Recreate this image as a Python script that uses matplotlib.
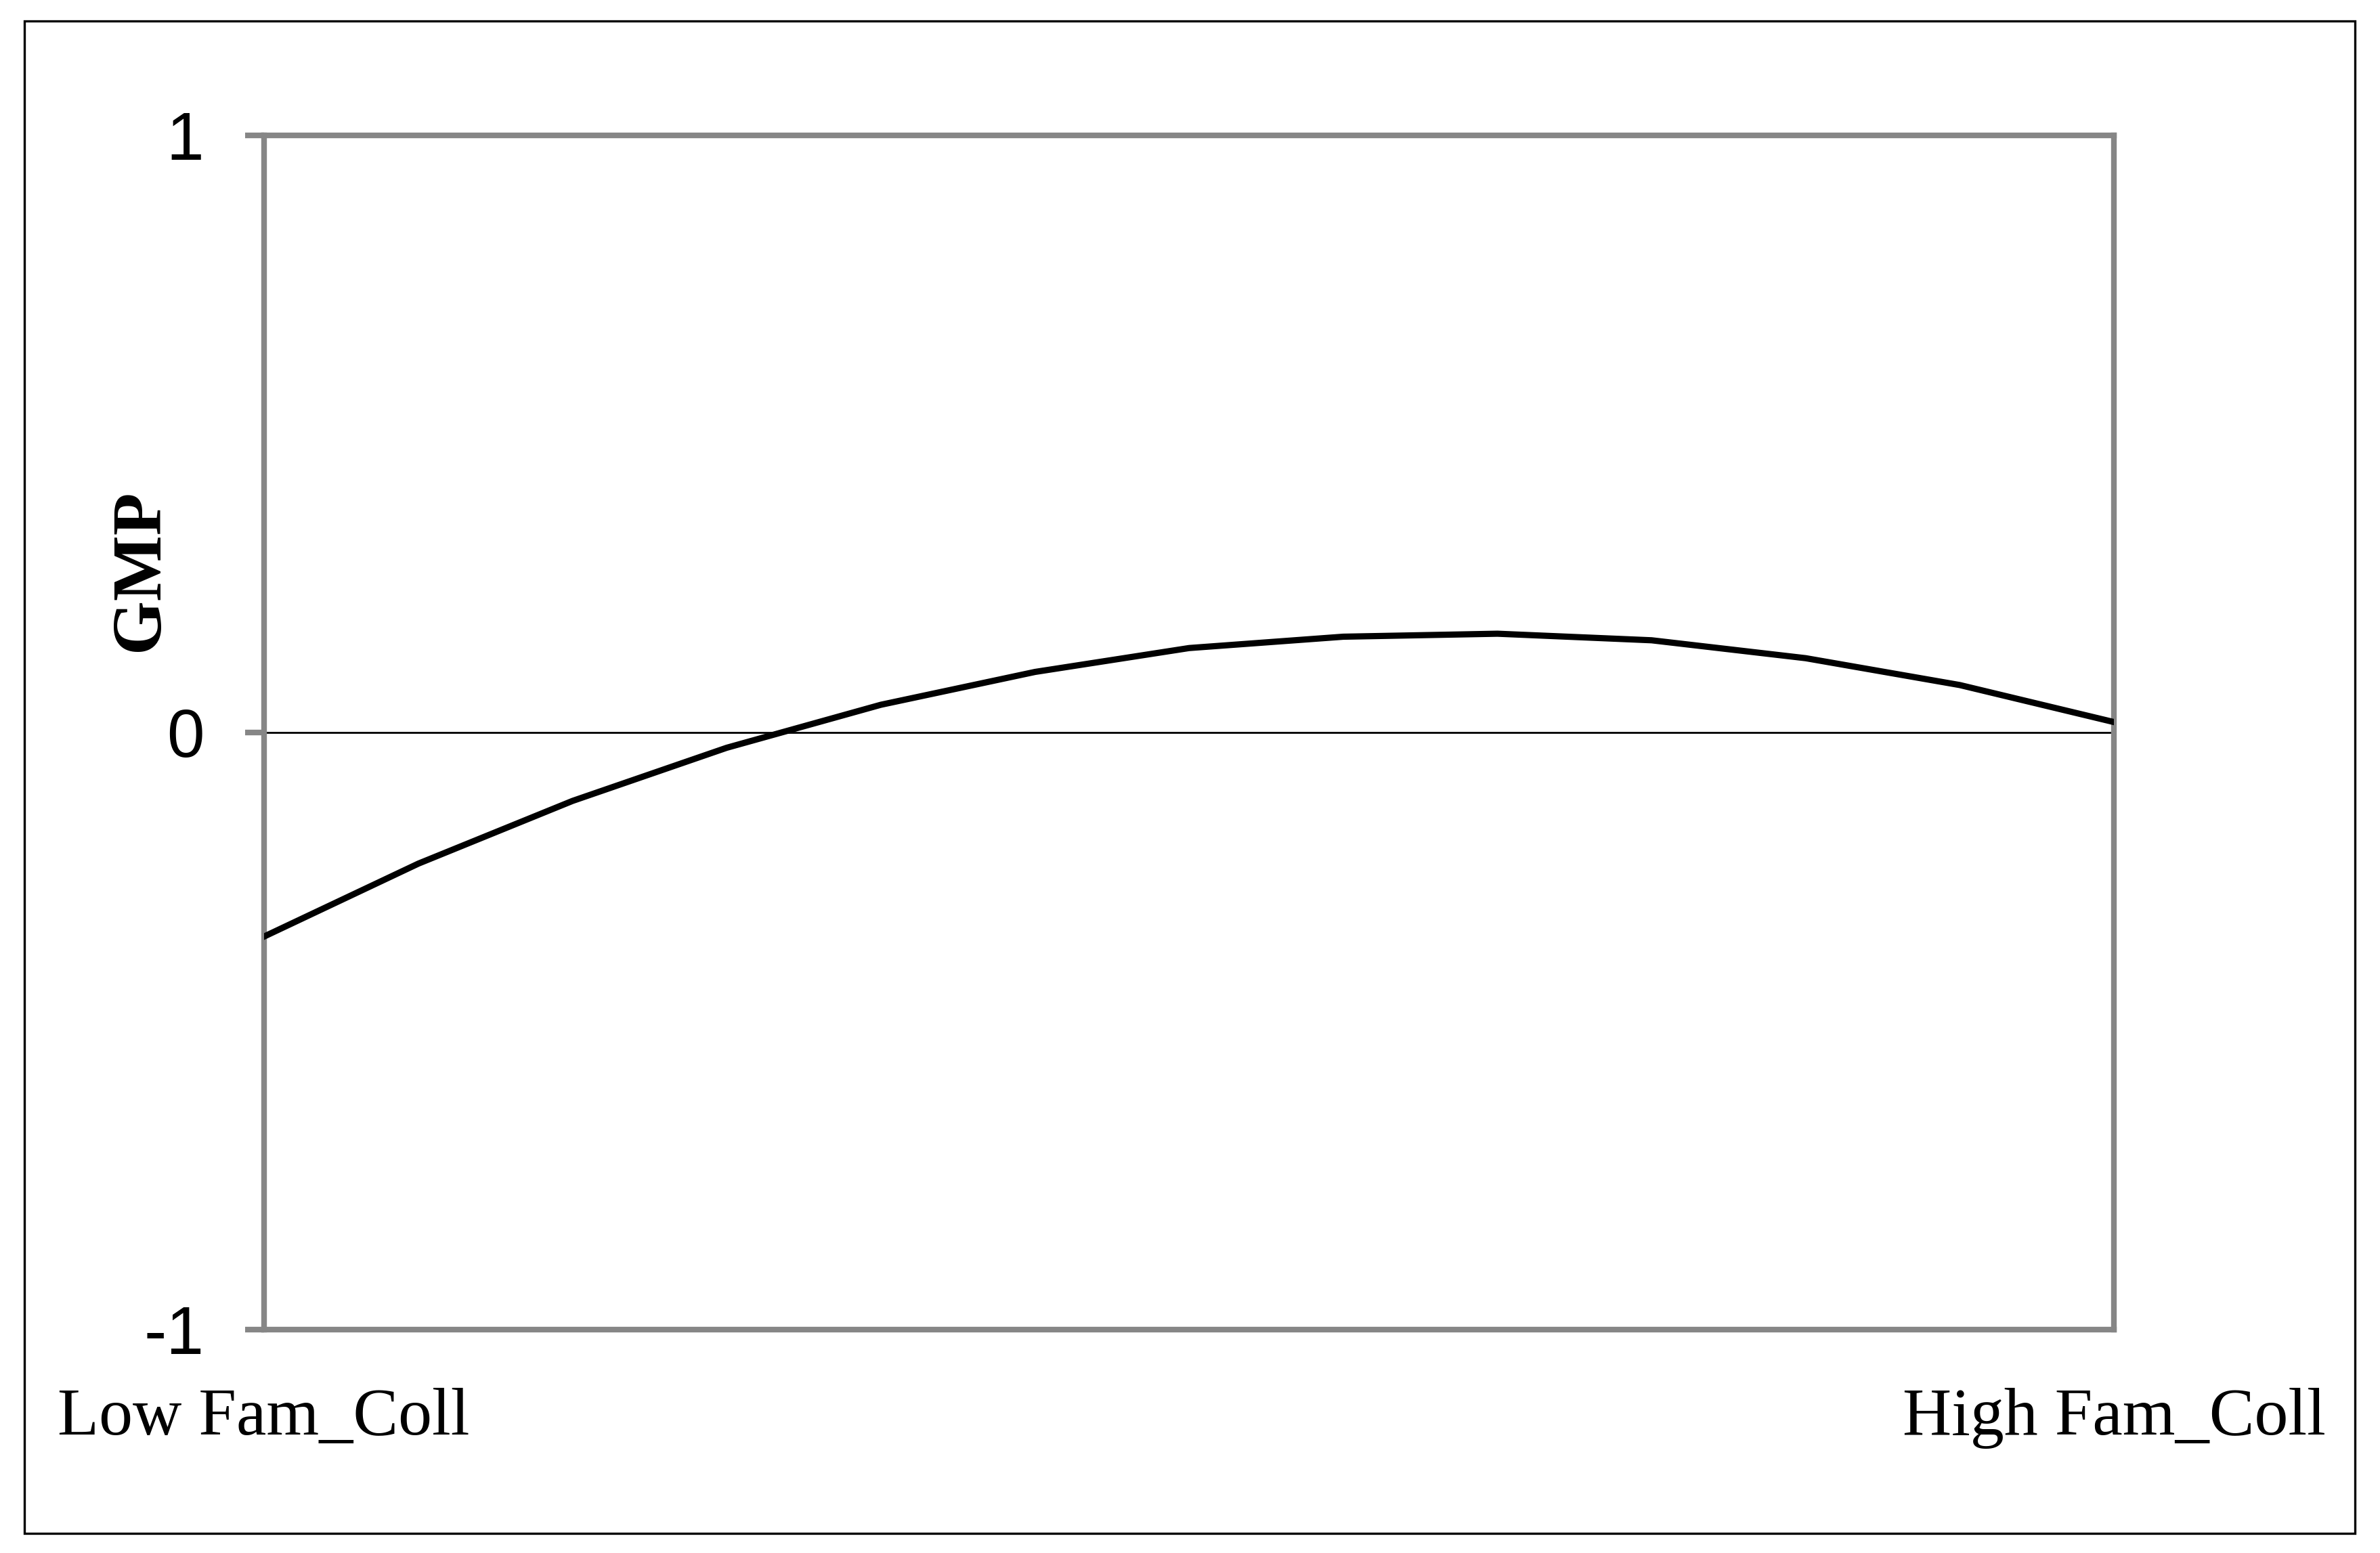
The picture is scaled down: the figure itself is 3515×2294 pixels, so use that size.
import numpy as np
import matplotlib
matplotlib.use("Agg")
import matplotlib.pyplot as plt
from matplotlib.patches import Rectangle

# values, 13 equally spaced points
gmp_values = [-0.342, -0.220, -0.115, -0.026, 0.046, 0.101, 0.141,
              0.160, 0.165, 0.154, 0.124, 0.079, 0.017]
x_labels = ["Low Fam_Coll", "High Fam_Coll"]
y_ticks = [-1, 0, 1]
y_label = "GMP"

spine_grey = "#868686"

fig = plt.figure(figsize=(17.58, 11.47), dpi=200)
ax = fig.add_axes([0.111, 0.144, 0.777, 0.769])

x = np.arange(len(gmp_values))
ax.plot(x, gmp_values, color="black", lw=3.3, solid_joinstyle="miter", zorder=3)
ax.axhline(0, color="black", lw=1.0, zorder=2)

ax.set_xlim(x[0], x[-1])
ax.set_ylim(-1, 1)
ax.set_yticks(y_ticks)
ax.set_yticklabels([str(t) for t in y_ticks], family="Liberation Sans", fontsize=36)
ax.set_xticks([])
ax.tick_params(axis="y", direction="out", length=10, width=3.0, color=spine_grey, pad=22)

for s in ax.spines.values():
    s.set_color(spine_grey)
    s.set_linewidth(3.0)

# category labels at both ends of the x axis
fig.text(0.0242, 0.0762, x_labels[0], family="Liberation Serif", fontsize=36,
         ha="left", va="baseline")
fig.text(0.977, 0.0762, x_labels[1], family="Liberation Serif", fontsize=36,
         ha="right", va="baseline")
fig.text(0.0593, 0.633, y_label, family="Liberation Serif", fontweight="bold",
         fontsize=37, rotation=90, ha="center", va="center")

# outer frame around the whole chart
fig.patches.append(Rectangle((0.0102, 0.0127), 0.979, 0.9736, transform=fig.transFigure,
                             fill=False, edgecolor="black", lw=1.2))

fig.savefig("out.png", dpi=200, facecolor="white")
